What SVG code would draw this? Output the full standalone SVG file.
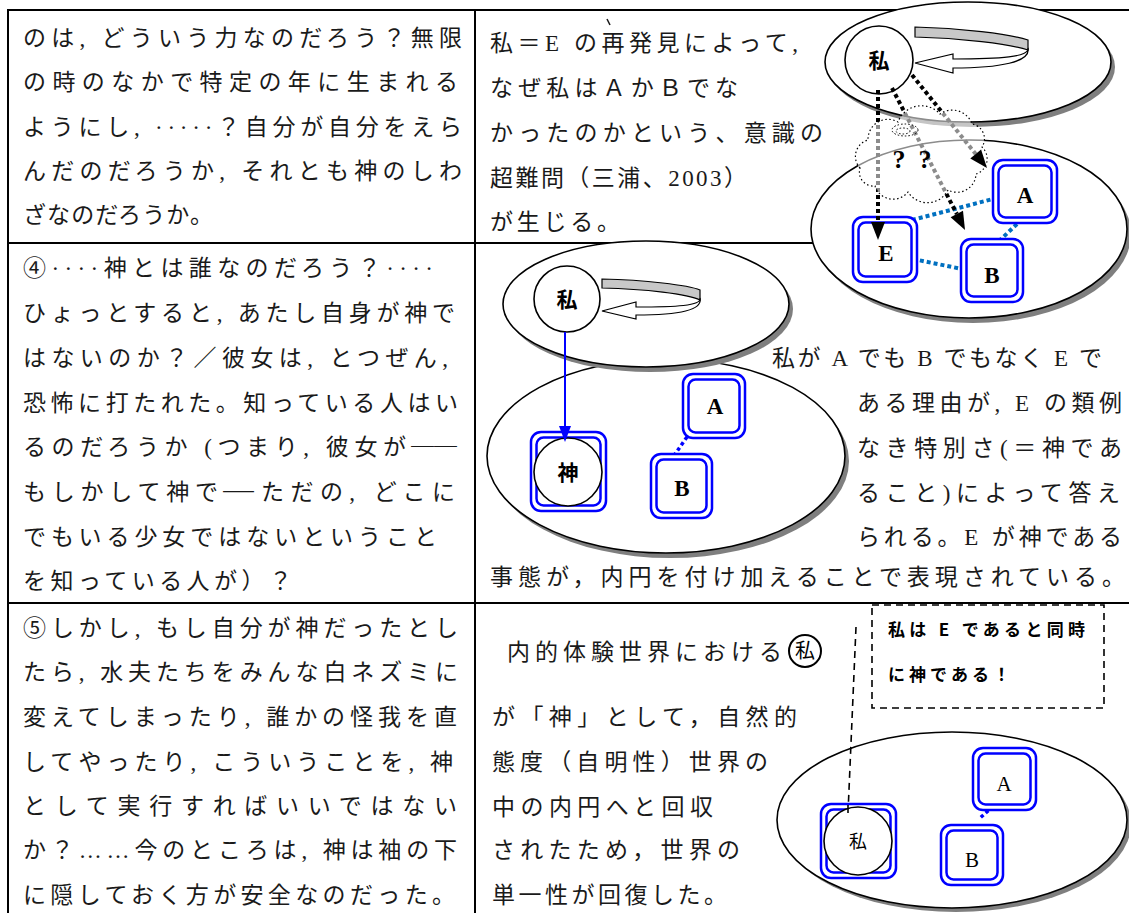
<svg xmlns="http://www.w3.org/2000/svg" width="1129" height="913" viewBox="0 0 1129 913">
<defs>
<style>
.t{font-family:'Liberation Serif','Noto Sans CJK JP',serif;font-size:23px;fill:#1a1a1a}
.dsh{font-family:'Noto Sans CJK JP',sans-serif;fill:#1a1a1a}
.tb{font-family:'Noto Sans CJK JP',sans-serif;font-size:17px;font-weight:bold;fill:#000}
.grid{stroke:#000;stroke-width:2;fill:none}
.ell{fill:#fff;stroke:#000;stroke-width:1.6}
.sh{fill:#7f7f7f}
.bo{fill:#fff;stroke:#0000ff;stroke-width:2.5}
.bi{fill:none;stroke:#0000ff;stroke-width:2.5}
.cir{fill:#fff;stroke:#000;stroke-width:1.6}
.lab{font-family:'Liberation Serif',serif;font-weight:bold;font-size:23px;text-anchor:middle;fill:#000}
.labn{font-family:'Liberation Serif',serif;font-size:21px;text-anchor:middle;fill:#000}
.kj{font-family:'Noto Sans CJK JP',sans-serif;font-weight:bold;font-size:21px;text-anchor:middle;fill:#000}
.kjn{font-family:'Noto Sans CJK JP',sans-serif;font-size:18px;text-anchor:middle;fill:#000}
.dotb{stroke:#0070c0;stroke-width:4;stroke-dasharray:4 3;fill:none}
.dotk{stroke:#000;stroke-width:4;stroke-dasharray:4 3;fill:none}
.dotblue{stroke:#0000ff;stroke-width:3.5;stroke-dasharray:3.5 3;fill:none}
.band{fill:#c8c8c8;stroke:#000;stroke-width:1.2}
.warr{fill:#fff;stroke:#000;stroke-width:1.2}
.dash{stroke:#000;stroke-width:1.6;stroke-dasharray:7 5;fill:none}
</style>
<marker id="ahb" viewBox="0 0 16 12" refX="0" refY="6" markerWidth="16" markerHeight="12" markerUnits="userSpaceOnUse" orient="auto"><path d="M0,0 L16,6 L0,12 Z" fill="#0000ff"/></marker>
</defs>
<rect width="1129" height="913" fill="#fff"/>

<g id="grid">
<line class="grid" x1="8" y1="10" x2="1129" y2="10"/>
<line class="grid" x1="8" y1="243" x2="1129" y2="243"/>
<line class="grid" x1="8" y1="603" x2="1129" y2="603"/>
<line class="grid" x1="8" y1="9" x2="8" y2="913"/>
<line class="grid" x1="475" y1="9" x2="475" y2="913"/>
</g>

<g id="left-text">
<text class="t" x="23" y="46" textLength="439" lengthAdjust="spacing">のは, どういう力なのだろう？無限</text>
<text class="t" x="23" y="90" textLength="435" lengthAdjust="spacing">の時のなかで特定の年に生まれる</text>
<text class="t" x="23" y="135" textLength="439" lengthAdjust="spacing">ようにし, ·····？自分が自分をえら</text>
<text class="t" x="23" y="179" textLength="439" lengthAdjust="spacing">んだのだろうか, それとも神のしわ</text>
<text class="t" x="23" y="223" textLength="190" lengthAdjust="spacing">ざなのだろうか。</text>

<text class="t" x="23" y="276" textLength="410" lengthAdjust="spacing">④····神とは誰なのだろう？····</text>
<text class="t" x="23" y="321" textLength="432" lengthAdjust="spacing">ひょっとすると, あたし自身が神で</text>
<text class="t" x="23" y="366" textLength="425" lengthAdjust="spacing">はないのか？／彼女は, とつぜん,</text>
<text class="t" x="23" y="411" textLength="435" lengthAdjust="spacing">恐怖に打たれた。知っている人はい</text>
<text class="t" x="23" y="455" textLength="383" lengthAdjust="spacing">るのだろうか (つまり, 彼女が</text>
<text class="dsh" x="411" y="455" style="font-size:23px">──</text>
<text class="t" x="23" y="500" textLength="195" lengthAdjust="spacing">もしかして神で</text>
<text class="dsh" x="223" y="503" style="font-size:31px">─</text>
<text class="t" x="261" y="500" textLength="194" lengthAdjust="spacing">ただの, どこに</text>
<text class="t" x="23" y="545" textLength="414" lengthAdjust="spacing">でもいる少女ではないということ</text>
<text class="t" x="23" y="589" textLength="269" lengthAdjust="spacing">を知っている人が）？</text>

<text class="t" x="23" y="636" textLength="435" lengthAdjust="spacing">⑤しかし, もし自分が神だったとし</text>
<text class="t" x="23" y="680" textLength="435" lengthAdjust="spacing">たら, 水夫たちをみんな白ネズミに</text>
<text class="t" x="23" y="725" textLength="434" lengthAdjust="spacing">変えてしまったり, 誰かの怪我を直</text>
<text class="t" x="23" y="770" textLength="430" lengthAdjust="spacing">してやったり, こういうことを, 神</text>
<text class="t" x="23" y="814" textLength="434" lengthAdjust="spacing">として実行すればいいではない</text>
<text class="t" x="23" y="858" textLength="434" lengthAdjust="spacing">か？……今のところは, 神は袖の下</text>
<text class="t" x="23" y="903" textLength="432" lengthAdjust="spacing">に隠しておく方が安全なのだった。</text>
</g>

<g id="right-text">
<path d="M607,19 L610,25" stroke="#1a1a1a" stroke-width="1.5" fill="none"/>
<text class="t" x="490" y="51" textLength="308" lengthAdjust="spacing">私＝E の再発見によって,</text>
<text class="t" x="490" y="96" textLength="248" lengthAdjust="spacing">なぜ私はＡかＢでな</text>
<text class="t" x="490" y="141" textLength="333" lengthAdjust="spacing">かったのかという、意識の</text>
<text class="t" x="490" y="186" textLength="257" lengthAdjust="spacing">超難問（三浦、2003）</text>
<text class="t" x="490" y="230" textLength="130" lengthAdjust="spacing">が生じる。</text>

<text class="t" x="772" y="366" textLength="330" lengthAdjust="spacing">私が A でも B でもなく E で</text>
<text class="t" x="857" y="411" textLength="265" lengthAdjust="spacing">ある理由が, E の類例</text>
<text class="t" x="857" y="456" textLength="265" lengthAdjust="spacing">なき特別さ(＝神であ</text>
<text class="t" x="857" y="501" textLength="263" lengthAdjust="spacing">ること)によって答え</text>
<text class="t" x="857" y="545" textLength="265" lengthAdjust="spacing">られる。E が神である</text>
<text class="t" x="490" y="585" textLength="635" lengthAdjust="spacing">事態が，内円を付け加えることで表現されている。</text>

<text class="t" x="507" y="660" textLength="275" lengthAdjust="spacing">内的体験世界における</text>
<circle cx="805" cy="651" r="16" fill="none" stroke="#000" stroke-width="2"/>
<text x="805" y="658" style="font-family:'Noto Sans CJK JP',sans-serif;font-size:20px;text-anchor:middle;fill:#000">私</text>
<text class="t" x="492" y="725" textLength="305" lengthAdjust="spacing">が「神」として，自然的</text>
<text class="t" x="492" y="770" textLength="276" lengthAdjust="spacing">態度（自明性）世界の</text>
<text class="t" x="492" y="815" textLength="221" lengthAdjust="spacing">中の内円へと回収</text>
<text class="t" x="492" y="858" textLength="248" lengthAdjust="spacing">されたため，世界の</text>
<text class="t" x="492" y="903" textLength="235" lengthAdjust="spacing">単一性が回復した。</text>
</g>

<!-- top-right diagram -->
<g id="tr-world">
<ellipse class="sh" cx="973" cy="234" rx="158" ry="89"/>
<ellipse class="ell" cx="969" cy="229" rx="158" ry="89"/>
</g>
<g id="tr-connectors">
<line class="dotb" x1="912" y1="220" x2="993" y2="199"/>
<line class="dotb" x1="913" y1="259" x2="962" y2="269"/>
<line class="dotb" x1="1017" y1="224" x2="998" y2="242"/>
</g>
<g id="tr-E">
<rect class="bo" x="853" y="217" width="64" height="65" rx="10"/>
<rect class="bi" x="858.5" y="222.5" width="53" height="54" rx="7"/>
<text class="lab" x="886" y="261">E</text>
</g>
<g id="tr-A">
<rect class="bo" x="993" y="160" width="64" height="63" rx="10"/>
<rect class="bi" x="998.5" y="165.5" width="53" height="52" rx="7"/>
<text class="lab" x="1025" y="203">A</text>
</g>
<g id="tr-B">
<rect class="bo" x="961" y="239" width="62" height="63" rx="10"/>
<rect class="bi" x="966.5" y="244.5" width="51" height="52" rx="7"/>
<text class="lab" x="992" y="283">B</text>
</g>
<g id="tr-self-world">
<ellipse class="sh" cx="972" cy="67" rx="143" ry="60"/>
<ellipse class="ell" cx="968" cy="62" rx="143" ry="60"/>
</g>
<g id="tr-self">
<circle class="cir" cx="879" cy="60" r="34"/>
<text class="kj" x="879" y="68">私</text>
<path class="band" d="M915,27 C960,28 1010,34 1028,40 L1028,50 C1010,44 960,38 915,37 Z"/>
<path class="warr" d="M1028,48 C1030,57 1000,59 953,59 L953,54 L915,63 L953,73 L953,68 C1000,68 1031,62 1028,48 Z"/>
</g>
<g id="tr-arrows">
<line class="dotk" x1="878" y1="90" x2="878" y2="222"/>
<line class="dotk" x1="892" y1="88" x2="956.8" y2="214"/>
<line class="dotk" x1="912" y1="75" x2="975.7" y2="154"/>
</g>
<g id="tr-cloud">
<path d="M860,168 A17,17 0 0 1 868,140 A20,20 0 0 1 898,122 A25,25 0 0 1 940,114 A21,21 0 0 1 972,124 A15,15 0 0 1 982,147 A16,16 0 0 1 976,174 A19,19 0 0 1 948,190 A23,23 0 0 1 908,192 A19,19 0 0 1 875,186 A14,14 0 0 1 860,168 Z" fill="#fff" fill-opacity="0.55" stroke="#000" stroke-width="1.2" stroke-dasharray="1.5 2.5"/>
<ellipse cx="905" cy="130" rx="13" ry="6" fill="none" stroke="#000" stroke-width="1" stroke-dasharray="1.5 2"/>
<ellipse cx="903" cy="131" rx="7" ry="3" fill="none" stroke="#000" stroke-width="1" stroke-dasharray="1.5 2"/>
<text class="lab" x="899" y="168" style="font-size:26px">?</text>
<text class="lab" x="925" y="168" style="font-size:26px">?</text>
</g>
<g id="tr-arrowheads">
<path d="M871,222 L885,222 L878,240 Z" fill="#000"/>
<path d="M950.6,217.2 L963,210.8 L965,230 Z" fill="#000"/>
<path d="M970.3,158.4 L981.1,149.6 L987,168 Z" fill="#000"/>
</g>

<!-- middle diagram -->
<g id="mid-world">
<ellipse class="sh" cx="670" cy="461" rx="179" ry="97"/>
<ellipse class="ell" cx="666" cy="456" rx="179" ry="97"/>
</g>
<g id="mid-connectors">
<line class="dotblue" x1="687" y1="437" x2="673" y2="457"/>
</g>
<g id="mid-A">
<rect class="bo" x="683" y="374" width="62" height="64" rx="10"/>
<rect class="bi" x="688.5" y="379.5" width="51" height="53" rx="7"/>
<text class="lab" x="715" y="414">A</text>
</g>
<g id="mid-B">
<rect class="bo" x="651" y="454" width="61" height="64" rx="10"/>
<rect class="bi" x="656.5" y="459.5" width="50" height="53" rx="7"/>
<text class="lab" x="682" y="496">B</text>
</g>
<g id="mid-god">
<rect class="bo" x="531" y="432" width="75" height="79" rx="10"/>
<rect class="bi" x="536.5" y="437.5" width="64" height="68" rx="7"/>
<circle class="cir" cx="568" cy="472" r="34"/>
<text class="kj" x="568" y="480">神</text>
</g>
<g id="mid-self-world">
<ellipse class="sh" cx="650" cy="309" rx="143" ry="63"/>
<ellipse class="ell" cx="646" cy="304" rx="143" ry="63"/>
</g>
<g id="mid-self">
<circle class="cir" cx="567" cy="299" r="33"/>
<text class="kj" x="567" y="307">私</text>
<path class="band" d="M602,279 C645,280 688,285 700,290 L700,300 C688,294 645,289 602,288 Z"/>
<path class="warr" d="M700,298 C702,306 675,307 636,307 L636,302 L602,311 L636,319 L636,315 C680,315 703,310 700,298 Z"/>
</g>
<g id="mid-arrow">
<line x1="565" y1="332" x2="565" y2="426" stroke="#0000ff" stroke-width="2" marker-end="url(#ahb)"/>
</g>

<!-- bottom diagram -->
<g id="bot-note">
<rect class="dash" x="872" y="605" width="232" height="103"/>
<text class="tb" x="888" y="636" textLength="197" lengthAdjust="spacing">私は E であると同時</text>
<text class="tb" x="888" y="681" textLength="122" lengthAdjust="spacing">に神である！</text>
</g>
<g id="bot-world">
<ellipse class="sh" cx="956" cy="824" rx="175" ry="88"/>
<ellipse class="ell" cx="952" cy="820" rx="175" ry="88"/>
</g>
<g id="bot-connectors">
<line class="dotblue" x1="998" y1="802" x2="980" y2="818"/>
<line class="dash" x1="856" y1="627" x2="848" y2="813"/>
</g>
<g id="bot-A">
<rect class="bo" x="973" y="748" width="63" height="62" rx="10"/>
<rect class="bi" x="978.5" y="753.5" width="52" height="51" rx="7"/>
<text class="labn" x="1004" y="791">A</text>
</g>
<g id="bot-B">
<rect class="bo" x="941" y="825" width="62" height="60" rx="10"/>
<rect class="bi" x="946.5" y="830.5" width="51" height="49" rx="7"/>
<text class="labn" x="972" y="867">B</text>
</g>
<g id="bot-self">
<rect class="bo" x="821" y="804" width="75" height="74" rx="10"/>
<rect class="bi" x="826.5" y="809.5" width="64" height="63" rx="7"/>
<circle class="cir" cx="858" cy="841" r="34"/>
<line x1="848" y1="805" x2="848" y2="813" stroke="#000" stroke-width="1.6"/>
<text class="kjn" x="858" y="848">私</text>
</g>
</svg>
